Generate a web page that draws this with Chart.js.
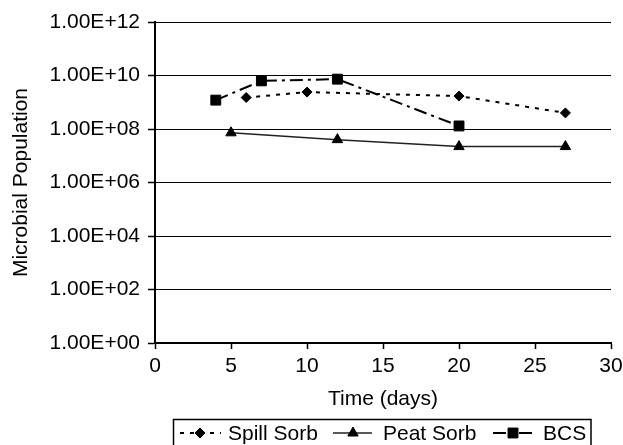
<!DOCTYPE html>
<html><head><meta charset="utf-8">
<script src="https://cdn.jsdelivr.net/npm/chart.js@4/dist/chart.umd.min.js"></script>
<style>html,body{margin:0;padding:0;background:#fff}canvas{display:block}</style>
</head><body>
<canvas id="c" width="623" height="445"></canvas>
<script>
const seriesNames = ['Spill Sorb', 'Peat Sorb', 'BCS'];
const spillDays = [6, 10, 20, 27];
const spillValues = [1.5e9, 2.4e9, 1.7e9, 4.0e8];
const peatDays = [5, 12, 20, 27];
const peatValues = [7.2e7, 4.0e7, 2.2e7, 2.2e7];
const bcsDays = [4, 7, 12, 20];
const bcsValues = [1.2e9, 6.3e9, 7.3e9, 1.3e8];
const yTickValues = [1e0, 1e2, 1e4, 1e6, 1e8, 1e10, 1e12];
const yTickLabels = ['1.00E+00', '1.00E+02', '1.00E+04', '1.00E+06', '1.00E+08', '1.00E+10', '1.00E+12'];
const xTitle = 'Time (days)';
const yTitle = 'Microbial Population';

const FONT = 'Liberation Sans, Arial, sans-serif';
const FS = 21;
const pts = (xs, ys) => xs.map((x, i) => ({x, y: ys[i]}));

const legendPlugin = {
  id: 'boxLegend',
  afterDraw(chart) {
    const ctx = chart.ctx;
    ctx.save();
    ctx.strokeStyle = '#000';
    ctx.lineWidth = 1.5;
    ctx.setLineDash([]);
    ctx.strokeRect(173.5, 419.5, 417.5, 30);
    const y = 433;
    const items = [
      {ds: 0, x1: 180, x2: 221, mx: 200, tx: 228},
      {ds: 1, x1: 333, x2: 372, mx: 353, tx: 383},
      {ds: 2, x1: 493, x2: 532, mx: 513, tx: 543}
    ];
    ctx.font = FS + 'px ' + FONT;
    ctx.textBaseline = 'middle';
    items.forEach(it => {
      const d = chart.data.datasets[it.ds];
      ctx.save();
      ctx.beginPath();
      ctx.setLineDash(d.borderDash || []);
      ctx.lineWidth = d.borderWidth;
      ctx.strokeStyle = d.borderColor;
      ctx.moveTo(it.x1, y); ctx.lineTo(it.x2, y);
      ctx.stroke();
      ctx.restore();
      ctx.save();
      ctx.setLineDash([]);
      ctx.fillStyle = '#000'; ctx.strokeStyle = '#000'; ctx.lineWidth = 1;
      Chart.helpers.drawPoint(ctx, {pointStyle: d.pointStyle, rotation: 0, radius: d.pointRadius, borderWidth: 1}, it.mx, y);
      ctx.restore();
      ctx.fillStyle = '#000';
      ctx.fillText(d.label, it.tx, y + 1);
    });
    ctx.restore();
  }
};

new Chart(document.getElementById('c'), {
  type: 'line',
  data: {
    datasets: [
      {label: seriesNames[0], data: pts(spillDays, spillValues), borderColor: '#000', backgroundColor: '#000',
       borderWidth: 2, borderDash: [4, 6], pointStyle: 'rectRot', pointRadius: 5, pointBorderWidth: 1},
      {label: seriesNames[1], data: pts(peatDays, peatValues), borderColor: '#222', backgroundColor: '#000',
       borderWidth: 1.5, borderDash: [], pointStyle: 'triangle', pointRadius: 6, pointBorderWidth: 1, pointBorderColor: '#000'},
      {label: seriesNames[2], data: pts(bcsDays, bcsValues), borderColor: '#000', backgroundColor: '#000',
       borderWidth: 2, borderDash: [13, 5, 3, 5], pointStyle: 'rect', pointRadius: 7, pointBorderWidth: 1}
    ]
  },
  options: {
    responsive: false,
    animation: false,
    layout: {padding: {left: 0, top: 22, right: 12, bottom: 33}},
    plugins: {legend: {display: false}, tooltip: {enabled: false}},
    scales: {
      x: {
        type: 'linear', min: 0, max: 30,
        ticks: {stepSize: 5, color: '#000', font: {family: FONT, size: FS}, padding: 5, maxRotation: 0},
        grid: {drawOnChartArea: false, drawTicks: true, tickLength: 6, tickColor: '#000', tickWidth: 1.5},
        border: {color: '#000', width: 2},
        title: {display: true, text: xTitle, color: '#000', font: {family: FONT, size: FS}, padding: {top: 4, bottom: 0}},
        afterFit(s) { s.height = 69; s.paddingLeft = 0; s.paddingRight = 0; }
      },
      y: {
        type: 'logarithmic', min: 1, max: 1e12,
        afterBuildTicks(s) { s.ticks = yTickValues.map(v => ({value: v, major: true})); },
        ticks: {color: '#000', font: {family: FONT, size: FS}, padding: 8,
          callback(v) { const i = yTickValues.indexOf(v); return i >= 0 ? yTickLabels[i] : ''; }},
        grid: {color: '#000', lineWidth: 1, drawTicks: true, tickLength: 7, tickColor: '#000', tickWidth: 1.5},
        border: {color: '#000', width: 2},
        title: {display: true, text: yTitle, color: '#000', font: {family: FONT, size: FS}, padding: {top: 9, bottom: 0}},
        afterFit(s) { s.width = 155; s.paddingTop = 0; s.paddingBottom = 0; }
      }
    }
  },
  plugins: [legendPlugin]
});
</script>
</body></html>
